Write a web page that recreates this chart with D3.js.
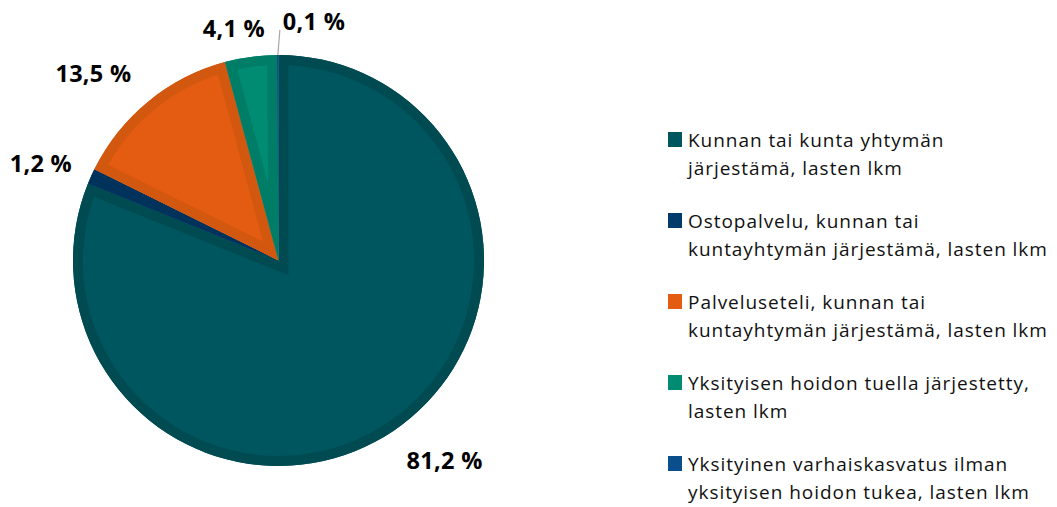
<!DOCTYPE html>
<html>
<head>
<meta charset="utf-8">
<script src="https://cdn.jsdelivr.net/npm/d3@7"></script>
<style>
  body { margin: 0; background: #fff; }
  text { font-family: "Open Sans", Lato, sans-serif; }
</style>
</head>
<body>
<svg id="chart"></svg>
<script>
// data
const categories = [
  "Kunnan tai kunta yhtymän\njärjestämä, lasten lkm",
  "Ostopalvelu, kunnan tai\nkuntayhtymän järjestämä, lasten lkm",
  "Palveluseteli, kunnan tai\nkuntayhtymän järjestämä, lasten lkm",
  "Yksityisen hoidon tuella järjestetty,\nlasten lkm",
  "Yksityinen varhaiskasvatus ilman\nyksityisen hoidon tukea, lasten lkm"
];
const values = [81.2, 1.2, 13.5, 4.1, 0.1];

const fills = ["#00565E", "#003B6B", "#E45B12", "#008C73", "#0B4E8C"];
const borders = ["#004B52", "#00325C", "#D2570F", "#007D66", "#084379"];

const width = 1057, height = 507;
const cx = 278.5, cy = 260.5, r = 205.5;
const borderW = 10;
const labelGap = 22;
// nudges so labels sit where the original's "best fit" put them
const labelNudge = [[22, -14], [0, 9], [-20, 14], [-12, 8], [0, 0]];

const fmt = (v) => d3.format(".1f")(v).replace(".", ",") + " %";

const svg = d3.select("#chart").attr("width", width).attr("height", height);

const pie = d3.pie().sort(null).value((d) => d);
const arcs = pie(values);
const arc = d3.arc().innerRadius(0).outerRadius(r);

const g = svg.append("g").attr("transform", `translate(${cx},${cy})`);
const defs = svg.append("defs");

arcs.forEach((a, i) => {
  defs.append("clipPath").attr("id", "clip" + i)
    .append("path").attr("d", arc(a));
});

const slices = g.selectAll(".slice")
  .data(arcs)
  .enter()
  .append("g")
  .attr("class", "slice");

slices.append("path")
  .attr("d", arc)
  .attr("fill", (d, i) => fills[i]);

// darker inner edge like in the original
slices.append("path")
  .attr("d", arc)
  .attr("fill", "none")
  .attr("stroke", (d, i) => borders[i])
  .attr("stroke-width", borderW * 2)
  .attr("stroke-linejoin", "miter")
  .attr("clip-path", (d, i) => `url(#clip${i})`);

// labels
const labelSize = 23.5;
const labelG = svg.append("g");

arcs.forEach((a, i) => {
  const mid = (a.startAngle + a.endAngle) / 2;
  const sx = Math.sin(mid), sy = -Math.cos(mid);
  const t = labelG.append("text")
    .attr("font-size", labelSize)
    .attr("font-weight", 700)
    .attr("letter-spacing", 0.3)
    .attr("fill", "#000")
    .text(fmt(values[i]));

  if (values[i] < 1) {
    // tiny slice: leader line straight up, label to its right
    const x0 = cx + r * sx, y0 = cy + r * sy;
    const x1 = x0 + 2, y1 = cy - r - 25;
    labelG.append("line")
      .attr("x1", x0).attr("y1", y0)
      .attr("x2", x1).attr("y2", y1)
      .attr("stroke", "#A6A6A6")
      .attr("stroke-width", 1.2);
    t.attr("x", x1 + 3).attr("y", y1);
    return;
  }

  const bb = t.node().getBBox();
  const half = (bb.width / 2) * Math.abs(sx) + 11 * Math.abs(sy);
  const R = r + labelGap + half;
  const lx = cx + R * sx + labelNudge[i][0];
  const ly = cy + R * sy + labelNudge[i][1];
  t.attr("x", lx)
    .attr("y", ly + 9)
    .attr("text-anchor", "middle");
});

// legend
const legend = svg.append("g");
const firstBase = 147, itemStep = 81, lineStep = 28.3;

categories.forEach((c, i) => {
  const base = firstBase + i * itemStep;
  legend.append("rect")
    .attr("x", 668)
    .attr("y", base - 15)
    .attr("width", 14)
    .attr("height", 15)
    .attr("fill", fills[i]);
  const t = legend.append("text")
    .attr("x", 688)
    .attr("y", base)
    .attr("font-size", 19)
    .attr("letter-spacing", 0.95)
    .attr("fill", "#111");
  c.split("\n").forEach((line, j) => {
    t.append("tspan")
      .attr("x", 688)
      .attr("y", base + j * lineStep)
      .text(line);
  });
});
</script>
</body>
</html>
